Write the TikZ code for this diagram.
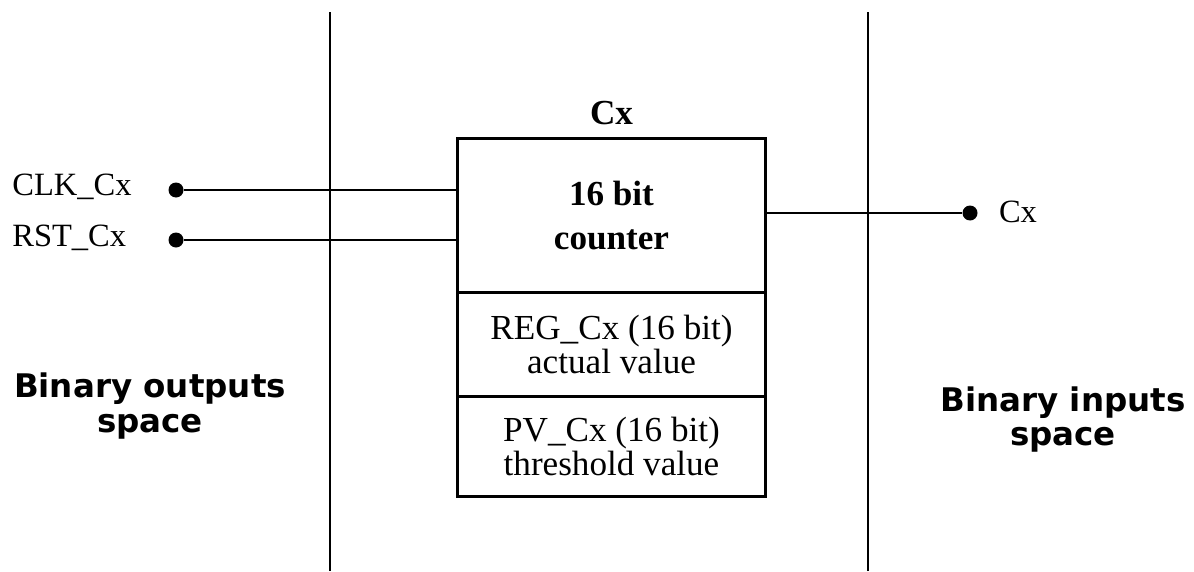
\documentclass[tikz,border=0pt]{standalone}
\usepackage{fontspec}
\setmainfont{Liberation Serif}
\newfontfamily\spacefont{DejaVu Sans}
\usetikzlibrary{positioning}

\tikzset{
  wire/.style={line width=0.9pt},
  pindot/.style={circle, fill=black, inner sep=0pt, minimum size=0.3cm},
  siglabel/.style={font=\fontsize{18.5}{20}\selectfont, inner sep=0pt},
  spacelabel/.style={font=\spacefont\bfseries\fontsize{18.5}{19.5}\selectfont, align=center},
  cell/.style={draw, line width=0.9pt, minimum width=6.14cm, inner sep=0pt, align=center,
               font=\fontsize{20}{19.5}\selectfont}
}

\begin{document}
\begin{tikzpicture}
    \useasboundingbox (0,0) rectangle (23.88,11.42);

    % Space dividers
    \draw[wire] (6.6,0) -- (6.6,11.18);
    \draw[wire] (17.36,0) -- (17.36,11.18);

    % Counter block
    \node[cell, minimum height=3.06cm, font=\bfseries\fontsize{20}{25}\selectfont]
        (counter) at (12.23,7.11) {16 bit\\counter};
    \node[cell, minimum height=2.04cm, below=0pt of counter] (regcx) {REG\_Cx (16 bit)\\actual value};
    \node[cell, minimum height=1.98cm, below=0pt of regcx] (pvcx) {PV\_Cx (16 bit)\\threshold value};
    \draw[line width=1.7pt] (counter.north west) rectangle (pvcx.south east);
    \node[font=\bfseries\fontsize{20}{22}\selectfont, above=0.15cm of counter] (title) {Cx};

    % Inputs
    \node[pindot] (clkdot) at (3.52,7.62) {};
    \node[pindot] (rstdot) at (3.52,6.62) {};
    \node[siglabel, anchor=west] (clklabel) at (0.24,7.68) {CLK\_Cx};
    \node[siglabel, anchor=west] (rstlabel) at (0.24,6.66) {RST\_Cx};
    \draw[wire] (clkdot) -- (clkdot -| counter.west);
    \draw[wire] (rstdot) -- (rstdot -| counter.west);

    % Output
    \node[pindot] (outdot) at (19.4,7.16) {};
    \node[siglabel] (outlabel) at (20.36,7.18) {Cx};
    \draw[wire] (outdot -| counter.east) -- (outdot);

    % Space labels
    \node[spacelabel] (outspace) at (3.0,3.3) {Binary outputs\\space};
    \node[spacelabel] (inspace) at (21.26,3.03) {Binary inputs\\space};
\end{tikzpicture}
\end{document}
